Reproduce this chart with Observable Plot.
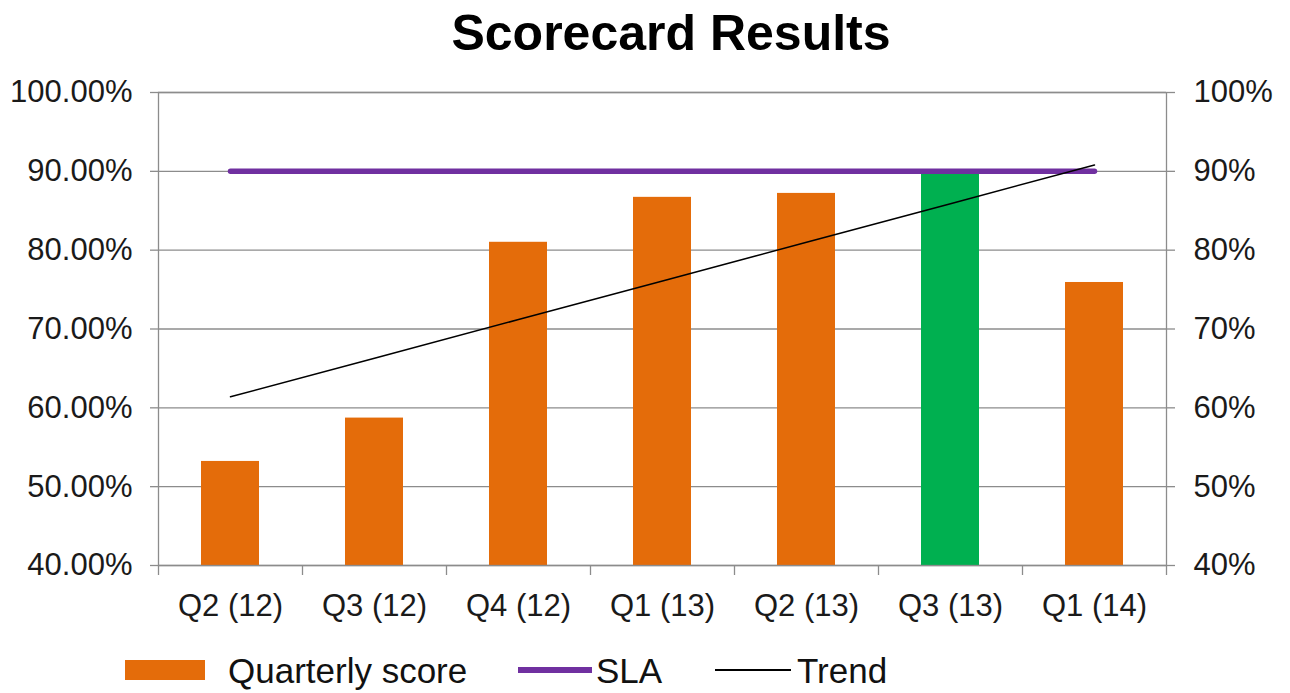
<!DOCTYPE html>
<html><head><meta charset="utf-8">
<script src="https://cdn.jsdelivr.net/npm/d3@7"></script>
<script src="https://cdn.jsdelivr.net/npm/@observablehq/plot@0.6"></script>
<style>
body{margin:0;background:#fff;font-family:"Liberation Sans",Arial,sans-serif;}
#wrap{position:relative;width:1290px;height:693px;overflow:hidden;background:#fff}
#title{height:70px;line-height:66px;text-align:center;font-weight:bold;font-size:50px;color:#000;padding-left:52px;box-sizing:border-box}
#chart{height:560px}
#legend{position:relative;height:63px;font-size:35px;color:#111}
#legend .sw{position:absolute}
#legend .lb{position:absolute;top:23px;line-height:35px;white-space:nowrap}
</style>
</head><body>
<div id="wrap">
  <div id="title">Scorecard Results</div>
  <div id="chart"></div>
  <div id="legend">
    <div class="sw" style="left:125px;top:30px;width:80px;height:20px;background:#E46C0A"></div>
    <div class="lb" style="left:228px">Quarterly score</div>
    <div class="sw" style="left:518px;top:37px;width:74px;height:6px;background:#7030A0"></div>
    <div class="lb" style="left:596px">SLA</div>
    <div class="sw" style="left:715px;top:39px;width:76px;height:2px;background:#000"></div>
    <div class="lb" style="left:797px">Trend</div>
  </div>
</div>
<script>
const quarters = ["Q2 (12)", "Q3 (12)", "Q4 (12)", "Q1 (13)", "Q2 (13)", "Q3 (13)", "Q1 (14)"];
const scores   = [53.2, 58.7, 81.0, 86.7, 87.2, 90.0, 75.9];
const sla      = [90, 90, 90, 90, 90, 90, 90];
const trend    = [61.4, 66.3, 71.2, 76.1, 81.0, 85.9, 90.8];
const yTicks   = [40, 50, 60, 70, 80, 90, 100];

const data = quarters.map((q, i) => ({q, score: scores[i], sla: sla[i], trend: trend[i]}));

const W = 1290, H = 560, ML = 158, MR = 124, MT = 22, MB = 65;
const half = (W - ML - MR) / quarters.length / 2;
const grey = "#8c8c8c";
const ORANGE = "#E46C0A", GREEN = "#00B050";

const chart = Plot.plot({
  width: W, height: H,
  marginLeft: ML, marginRight: MR, marginTop: MT, marginBottom: MB,
  style: {fontFamily: "'Liberation Sans', Arial, sans-serif", background: "#fff", overflow: "visible"},
  x: {type: "band", domain: quarters, paddingInner: 0.6, paddingOuter: 0.3, axis: null, label: null},
  y: {domain: [40, 100], axis: null, label: null},
  marks: [
    Plot.gridY(yTicks, {stroke: grey, strokeOpacity: 1, strokeWidth: 1.3}),
    Plot.barY(data, {x: "q", y1: 40, y2: "score", fill: d => d.score >= d.sla ? GREEN : ORANGE}),
    Plot.line(data, {x: "q", y: "sla", stroke: "#7030A0", strokeWidth: 5.5, strokeLinecap: "round"}),
    Plot.line(data, {x: "q", y: "trend", stroke: "#000", strokeWidth: 1.5}),
    Plot.frame({stroke: grey, strokeWidth: 1.3}),
    Plot.axisY({anchor: "left", ticks: yTicks, tickSize: 8, tickPadding: 18, fontSize: 31, label: null,
      tickFormat: d => d.toFixed(2) + "%", stroke: grey, strokeWidth: 1.3, color: "#1a1a1a"}),
    Plot.axisY({anchor: "right", ticks: yTicks, tickSize: 8, tickPadding: 19, fontSize: 31, label: null,
      tickFormat: d => d + "%", stroke: grey, strokeWidth: 1.3, color: "#1a1a1a"}),
    Plot.axisX({ticks: quarters, tickSize: 0, tickPadding: 28, fontSize: 31, color: "#1a1a1a", label: null}),
    Plot.axisX({ticks: quarters, tickSize: 10, text: null, label: null, dx: -half, stroke: grey, strokeWidth: 1.3}),
    Plot.axisX({ticks: quarters.slice(-1), tickSize: 10, text: null, label: null, dx: half, stroke: grey, strokeWidth: 1.3})
  ]
});
document.getElementById("chart").append(chart);
</script>
</body></html>
